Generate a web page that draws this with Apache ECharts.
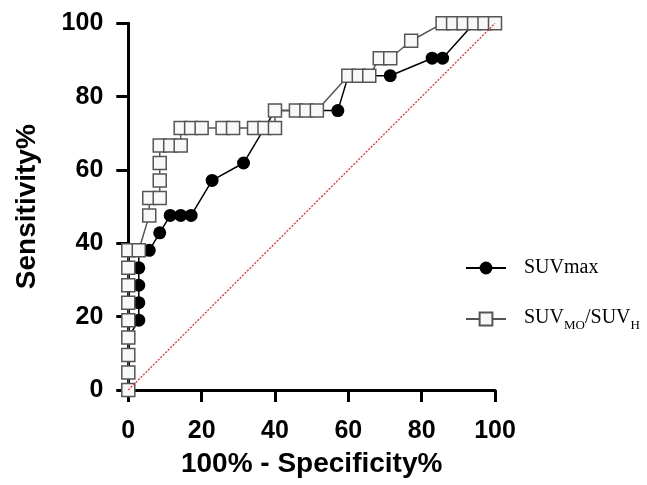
<!DOCTYPE html>
<html>
<head>
<meta charset="utf-8">
<script src="https://cdn.jsdelivr.net/npm/echarts@6/dist/echarts.min.js"></script>
<style>
html,body{margin:0;padding:0;background:#fff;}
#chart{width:647px;height:485px;}
</style>
</head>
<body>
<div id="chart"></div>
<script>
// SUVmax ROC points (100% - Specificity%, Sensitivity%)
const suvmaxX = [0, 0, 0, 0, 2.86, 2.86, 2.86, 2.86, 2.86, 5.71, 8.57, 11.43, 14.29, 17.14, 22.86, 31.43, 37.14, 40, 57.14, 60, 71.43, 82.86, 85.71, 94.29, 100];
const suvmaxY = [0, 4.76, 9.52, 14.29, 19.05, 23.81, 28.57, 33.33, 38.10, 38.10, 42.86, 47.62, 47.62, 47.62, 57.14, 61.90, 71.43, 76.19, 76.19, 85.71, 85.71, 90.48, 90.48, 100, 100];
// SUVMO/SUVH ROC points
const ratioX = [0, 0, 0, 0, 0, 0, 0, 0, 0, 2.86, 5.71, 5.71, 8.57, 8.57, 8.57, 8.57, 11.43, 14.29, 14.29, 17.14, 20, 25.71, 28.57, 34.29, 37.14, 40, 40, 45.71, 48.57, 51.43, 60, 62.86, 65.71, 68.57, 71.43, 77.14, 85.71, 88.57, 91.43, 94.29, 97.14, 100];
const ratioY = [0, 4.76, 9.52, 14.29, 19.05, 23.81, 28.57, 33.33, 38.10, 38.10, 47.62, 52.38, 52.38, 57.14, 61.90, 66.67, 66.67, 66.67, 71.43, 71.43, 71.43, 71.43, 71.43, 71.43, 71.43, 71.43, 76.19, 76.19, 76.19, 76.19, 85.71, 85.71, 85.71, 90.48, 90.48, 95.24, 100, 100, 100, 100, 100, 100];
// reference diagonal
const diagX = [0, 100];
const diagY = [0, 100];
// axis ticks
const xTicks = [0, 20, 40, 60, 80, 100];
const yTicks = [0, 20, 40, 60, 80, 100];

const zip = (xs, ys) => xs.map((x, i) => [x, ys[i]]);
const sansBold = {fontFamily: 'Liberation Sans, Arial, sans-serif', fontWeight: 'bold', color: '#000'};
const serif = 'Liberation Serif, Times New Roman, serif';

const chart = echarts.init(document.getElementById('chart'), null, {renderer: 'canvas'});
const axisCommon = {
  type: 'value',
  min: xTicks[0],
  max: xTicks[xTicks.length - 1],
  interval: xTicks[1] - xTicks[0],
  axisLine: {show: true, onZero: false, lineStyle: {color: '#000', width: 3}},
  axisTick: {show: true, length: 12, lineStyle: {color: '#000', width: 3}},
  splitLine: {show: false},
  nameLocation: 'middle',
  nameTextStyle: Object.assign({fontSize: 28}, sansBold)
};
chart.setOption({
  animation: false,
  backgroundColor: '#fff',
  grid: {left: 128.3, right: 152, top: 23.3, bottom: 95, containLabel: false},
  xAxis: Object.assign({}, axisCommon, {
    name: '100% - Specificity%',
    nameGap: 60,
    axisLabel: Object.assign({fontSize: 25, margin: 29}, sansBold)
  }),
  yAxis: Object.assign({}, axisCommon, {
    min: yTicks[0], max: yTicks[yTicks.length - 1], interval: yTicks[1] - yTicks[0],
    name: 'Sensitivity%',
    nameGap: 87,
    axisLabel: Object.assign({fontSize: 25, margin: 25}, sansBold)
  }),
  legend: [
    {
      data: ['SUVmax'], orient: 'vertical', left: 465, top: 258, padding: 0,
      itemWidth: 40, itemHeight: 16,
      textStyle: {fontFamily: serif, fontSize: 20, color: '#000', padding: [0, 0, 0, 13]}
    },
    {
      data: ['SUVMO/SUVH'], orient: 'vertical', left: 465, top: 308, padding: 0,
      itemWidth: 40, itemHeight: 16,
      formatter: () => '{n|SUV}{s|MO}{n|/SUV}{s|H}',
      textStyle: {
        fontFamily: serif, fontSize: 20, color: '#000', padding: [0, 0, 0, 13],
        rich: {
          n: {fontFamily: serif, fontSize: 20, lineHeight: 22, verticalAlign: 'top', color: '#000'},
          s: {fontFamily: serif, fontSize: 13, lineHeight: 13, padding: [11, 0, 0, 0], verticalAlign: 'top', color: '#000'}
        }
      }
    }
  ],
  series: [
    {
      name: 'SUVmax', type: 'line', z: 2,
      data: zip(suvmaxX, suvmaxY),
      symbol: 'circle', symbolSize: 13,
      itemStyle: {color: '#000'},
      lineStyle: {color: '#000', width: 1.5}
    },
    {
      name: 'SUVMO/SUVH', type: 'line', z: 3,
      data: zip(ratioX, ratioY),
      symbol: 'rect', symbolSize: 13,
      itemStyle: {color: '#f8f8f8', borderColor: '#555', borderWidth: 1.5},
      lineStyle: {color: '#555', width: 1.5}
    },
    {
      name: 'diag', type: 'line', z: 4, silent: true,
      data: zip(diagX, diagY),
      symbol: 'none',
      lineStyle: {color: '#ff1a1a', width: 1.2, type: [2, 1.5]}
    }
  ]
});
</script>
</body>
</html>
